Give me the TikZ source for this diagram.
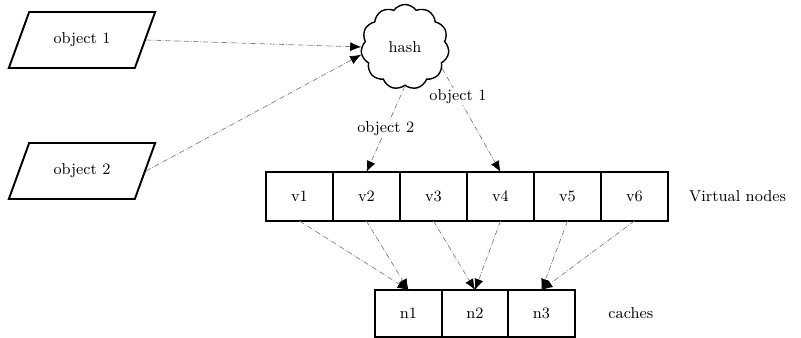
\documentclass[tikz,border=0pt]{standalone}
\usepackage{tikz}
\usetikzlibrary{arrows.meta, positioning, shapes.geometric, shapes.symbols}

\begin{document}
\begin{tikzpicture}[>=Latex, node distance=0cm,
		obj/.style={trapezium, trapezium left angle=63, trapezium right angle=117, trapezium stretches=true, draw=black, line width=1.1pt, minimum width=2.94cm, minimum height=1.12cm, font=\fontsize{9}{10}\selectfont},
		vnode/.style={rectangle, draw=black, line width=1.1pt, outer sep=0pt, minimum width=1.34cm, minimum height=0.98cm, font=\fontsize{9}{10}\selectfont},
		cache/.style={rectangle, draw=black, line width=1.1pt, outer sep=0pt, minimum width=1.33cm, minimum height=0.94cm, font=\fontsize{9}{10}\selectfont},
		lbl/.style={font=\fontsize{9}{10}\selectfont, text=black},
		link/.style={gray, densely dashdotted, thin, -{Latex[black, length=2.2mm, width=1.8mm]}}]
		
		\useasboundingbox (0,0) rectangle (16.02,-6.76);
		
		% Objetos
		\node[obj] (obj1) at (1.64, -0.80) {object 1};
		\node[obj] (obj2) at (1.64, -3.42) {object 2};
		
		% Hash
		\node[cloud, cloud puffs=11, cloud puff arc=110, draw=black, thick, minimum width=1.76cm, minimum height=1.7cm, lbl] (hash) at (8.1, -0.94) {hash};
		
		% Virtual nodes
		\node[vnode] (v1) at (5.99, -3.93) {v1};
		\node[vnode, right=of v1] (v2) {v2};
		\node[vnode, right=of v2] (v3) {v3};
		\node[vnode, right=of v3] (v4) {v4};
		\node[vnode, right=of v4] (v5) {v5};
		\node[vnode, right=of v5] (v6) {v6};
		\node[lbl, right=0.3cm of v6] (vlabel) {Virtual nodes};
		
		% Caches
		\node[cache] (n1) at (8.17, -6.27) {n1};
		\node[cache, right=of n1] (n2) {n2};
		\node[cache, right=of n2] (n3) {n3};
		\node[lbl, right=0.55cm of n3] (clabel) {caches};
		
		% Arestas
		\draw[link] (obj1.east) -- (hash.west);
		\draw[link] (obj2.east) -- (hash.190);
		\draw[link] (hash.south) -- node[lbl, fill=white, inner sep=1pt] {object 2} (v2.north);
		\draw[link] (hash.-30) -- node[lbl, fill=white, inner sep=1pt, pos=0.27] {object 1} (v4.north);
		
		\draw[link] (v1.south) -- (n1.north);
		\draw[link] (v2.south) -- (n1.north);
		\draw[link] (v3.south) -- (n2.north);
		\draw[link] (v4.south) -- (n2.north);
		\draw[link] (v5.south) -- (n3.north);
		\draw[link] (v6.south) -- (n3.north);
		
	\end{tikzpicture}
\end{document}
